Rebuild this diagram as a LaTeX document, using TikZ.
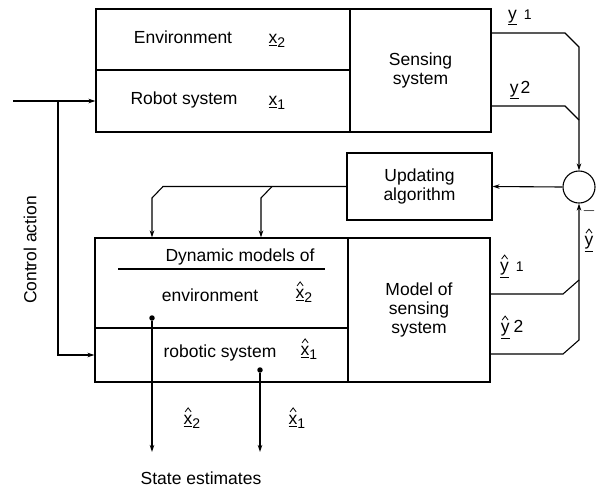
\documentclass[tikz,border=0pt]{standalone}
\usepackage{fontspec}
\setmainfont{Liberation Sans}
\usetikzlibrary{arrows.meta,positioning}

% state vectors and their estimates
\newcommand{\hatmark}{\tikz[x=1pt,y=1pt,line width=0.8pt]\draw (0,0) -- (3,4) -- (6,0);}
\newcommand{\hatted}[1]{\leavevmode\vbox{\offinterlineskip\halign{\hfil##\hfil\cr
    \hatmark\cr\noalign{\kern3pt}#1\cr}}}
\newcommand{\statevec}[1]{\underline{#1}}
\newcommand{\estvec}[1]{\underline{\hatted{#1}}}
\newcommand{\idx}[1]{{\fontsize{14}{14}\selectfont #1}}
\newcommand{\sub}[1]{\raisebox{-4pt}{\fontsize{14}{14}\selectfont #1}}

\begin{document}
\begin{tikzpicture}[x=1pt, y=-1pt, line width=1.1pt, >={Stealth[length=7pt,width=4.5pt]},
    every node/.style={font=\fontsize{17.5}{19}\selectfont}]
    % Define styles
    \tikzstyle{block} = [rectangle, draw, inner sep=0pt, align=center]
    \tikzstyle{sig} = [inner sep=1pt]
    \tikzstyle{junction} = [circle, draw, minimum size=32pt, inner sep=0pt]
    \tikzstyle{tap} = [circle, fill, inner sep=0pt, minimum size=5.5pt]

    \useasboundingbox (0,0) rectangle (597,491);

    % Real world: environment, robot and sensors
    \node [block, minimum width=254pt, minimum height=61pt] (environment) at (223,39.5) {};
    \node [block, minimum width=254pt, minimum height=62pt] (robot) at (223,101) {};
    \node [block, minimum width=141pt, minimum height=123pt] (sensing) at (420.5,70.5) {Sensing\\system};
    \node (environment_text) at (183,37) {Environment};
    \node [sig] (x_two) at (277,41) {\statevec{x}\sub{2}};
    \node (robot_text) at (184,100) {Robot system};
    \node [sig] (x_one) at (277,103) {\statevec{x}\sub{1}};
    \node [sig] (y_one) at (520,17) {\statevec{y}\hspace{7pt}\idx{1}};
    \node [sig] (y_two) at (520,90) {\statevec{y}\hspace{2pt}2};

    % Update loop
    \node [block, minimum width=145pt, minimum height=67pt] (updating) at (419.5,186.5) {Updating\\algorithm};
    \node [junction] (sum) at (579,187) {};
    \node [sig] (minus) at (589,211) {$-$};
    \node [sig] (y_hat_edge) at (589,240) {\estvec{y}};

    % Internal models
    \node [block, minimum width=253pt, minimum height=90pt] (env_model) at (221.5,283) {};
    \node [block, minimum width=253pt, minimum height=54pt] (robot_model) at (221.5,355) {};
    \node [block, minimum width=142pt, minimum height=144pt] (sensing_model) at (419,310) {Model of\\sensing\\system};
    \node (models_text) at (240,257) {Dynamic models of};
    \draw (118,269) -- (325,269);
    \node (env_model_text) at (210,295) {environment};
    \node [sig] (x_two_hat) at (304,292) {\estvec{x}\sub{2}};
    \node (robot_model_text) at (220,353) {robotic system};
    \node [sig] (x_one_hat) at (309,349) {\estvec{x}\sub{1}};
    \node [sig] (y_one_hat) at (512,266) {\estvec{y}\hspace{7pt}\idx{1}};
    \node [sig] (y_two_hat) at (512,327) {\estvec{y}\hspace{4pt}2};

    % Control input
    \coordinate (control_in) at (13,101);
    \coordinate (control_split) at (58,101);
    \node [rotate=90] (control_text) at (30,250) {Control action};
    \draw [->] (control_in) -- (robot.west);
    \draw [->] (control_split) |- (robot_model.west);

    % Measurements into the comparator
    \draw [->] (sensing.east |- 0,33) -- (565,33) -- (579,47) -- (sum.north);
    \draw (sensing.east |- 0,106) -- (565,106) -- (579,120);
    \draw [->] (sensing_model.east |- 0,294) -- (563,294) -- (579,280) -- (sum.south);
    \draw (sensing_model.east |- 0,354) -- (563,354) -- (579,340) -- (579,280);

    % Correction fed back into the models
    \draw [->] (sum.west) -- (updating.east);
    \draw [->] (updating.west) -- (163,186.5) -- (152,198) -- (152,0 |- env_model.north);
    \draw [->] (272,186.5) -- (261,198) -- (261,0 |- env_model.north);

    % State estimates
    \node [tap] (tap_env) at (152,318) {};
    \node [tap] (tap_robot) at (260,370) {};
    \coordinate (est_env) at (152,452);
    \coordinate (est_robot) at (260,452);
    \draw [->] (tap_env) -- (est_env);
    \draw [->] (tap_robot) -- (est_robot);
    \node [sig] (x_two_out) at (192,418) {\estvec{x}\sub{2}};
    \node [sig] (x_one_out) at (297,418) {\estvec{x}\sub{1}};
    \node (estimates_text) at (201,478) {State estimates};
\end{tikzpicture}
\end{document}
